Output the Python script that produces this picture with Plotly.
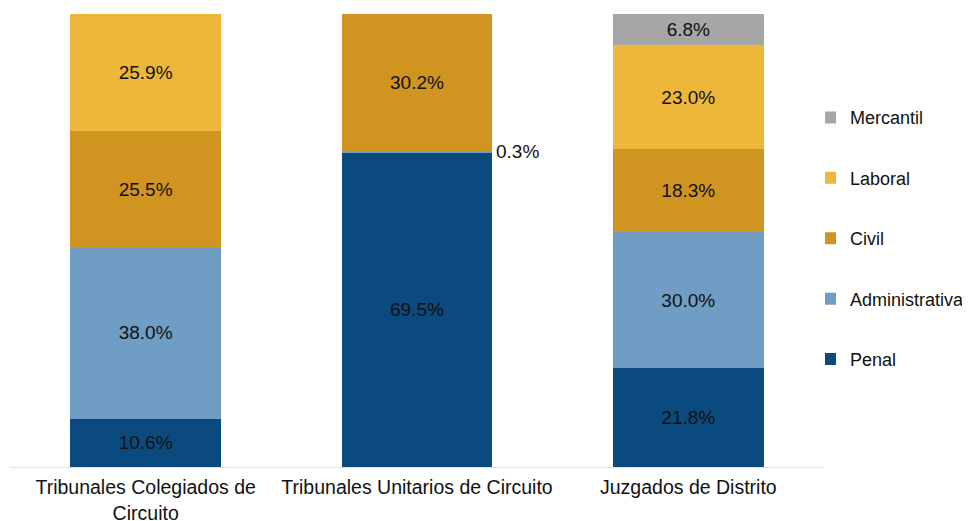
import plotly.graph_objects as go

# categories and shares (%)
categorias = ["Tribunales Colegiados de<br>Circuito",
              "Tribunales Unitarios de Circuito",
              "Juzgados de Distrito"]

penal = [10.6, 69.5, 21.8]
administrativa = [38.0, 0.3, 30.0]
civil = [25.5, 30.2, 18.3]
laboral = [25.9, 0.0, 23.0]
mercantil = [0.0, 0.0, 6.8]

series = [
    ("Penal", penal, "#0B4A7E"),
    ("Administrativa", administrativa, "#6F9DC4"),
    ("Civil", civil, "#D09420"),
    ("Laboral", laboral, "#EDB73A"),
    ("Mercantil", mercantil, "#A6A6A6"),
]

font = "Liberation Sans, Arial, sans-serif"
txt = "#111111"

# page body adds an 8px margin, so the figure is 8px smaller than the window
W, H = 962, 513

fig = go.Figure()
for i, (name, vals, color) in enumerate(series):
    # labels inside bars; tiny slice gets an outside annotation instead
    labels = ["%.1f%%" % v if v >= 1 else "" for v in vals]
    fig.add_trace(go.Bar(
        x=categorias, y=vals, name=name,
        marker=dict(color=color, line=dict(width=0)),
        text=labels, textposition="inside", insidetextanchor="middle",
        textangle=0,
        textfont=dict(family=font, size=19, color=txt),
        legendgroup=name, legendrank=len(series) - i,
        hoverinfo="skip",
    ))

# 0.3% label next to the thin Administrativa slice
fig.add_annotation(
    x=categorias[1], y=penal[1] + administrativa[1] / 2,
    text="%.1f%%" % administrativa[1], showarrow=False,
    xanchor="left", xshift=77,
    font=dict(family=font, size=19, color=txt),
)

fig.update_layout(
    width=W, height=H,
    barmode="stack", bargap=0.445,
    plot_bgcolor="white", paper_bgcolor="white",
    margin=dict(l=1.5, r=145.5, t=6, b=54),
    font=dict(family=font, size=19, color=txt),
    showlegend=True,
    legend=dict(
        xref="container", x=817 / W, xanchor="left",
        y=0.505, yanchor="middle",
        traceorder="grouped", tracegroupgap=34,
        indentation=-15,
        font=dict(family=font, size=18, color=txt),
        itemwidth=30,
    ),
    xaxis=dict(
        automargin=False,
        showline=True, linecolor="#e3e3e3", linewidth=1,
        ticks="outside", ticklen=3, tickcolor="rgba(0,0,0,0)",
        tickfont=dict(family=font, size=19.5, color=txt),
    ),
    yaxis=dict(range=[0, 100], visible=False, showgrid=False,
               automargin=False),
)

fig.write_html("out.html")
